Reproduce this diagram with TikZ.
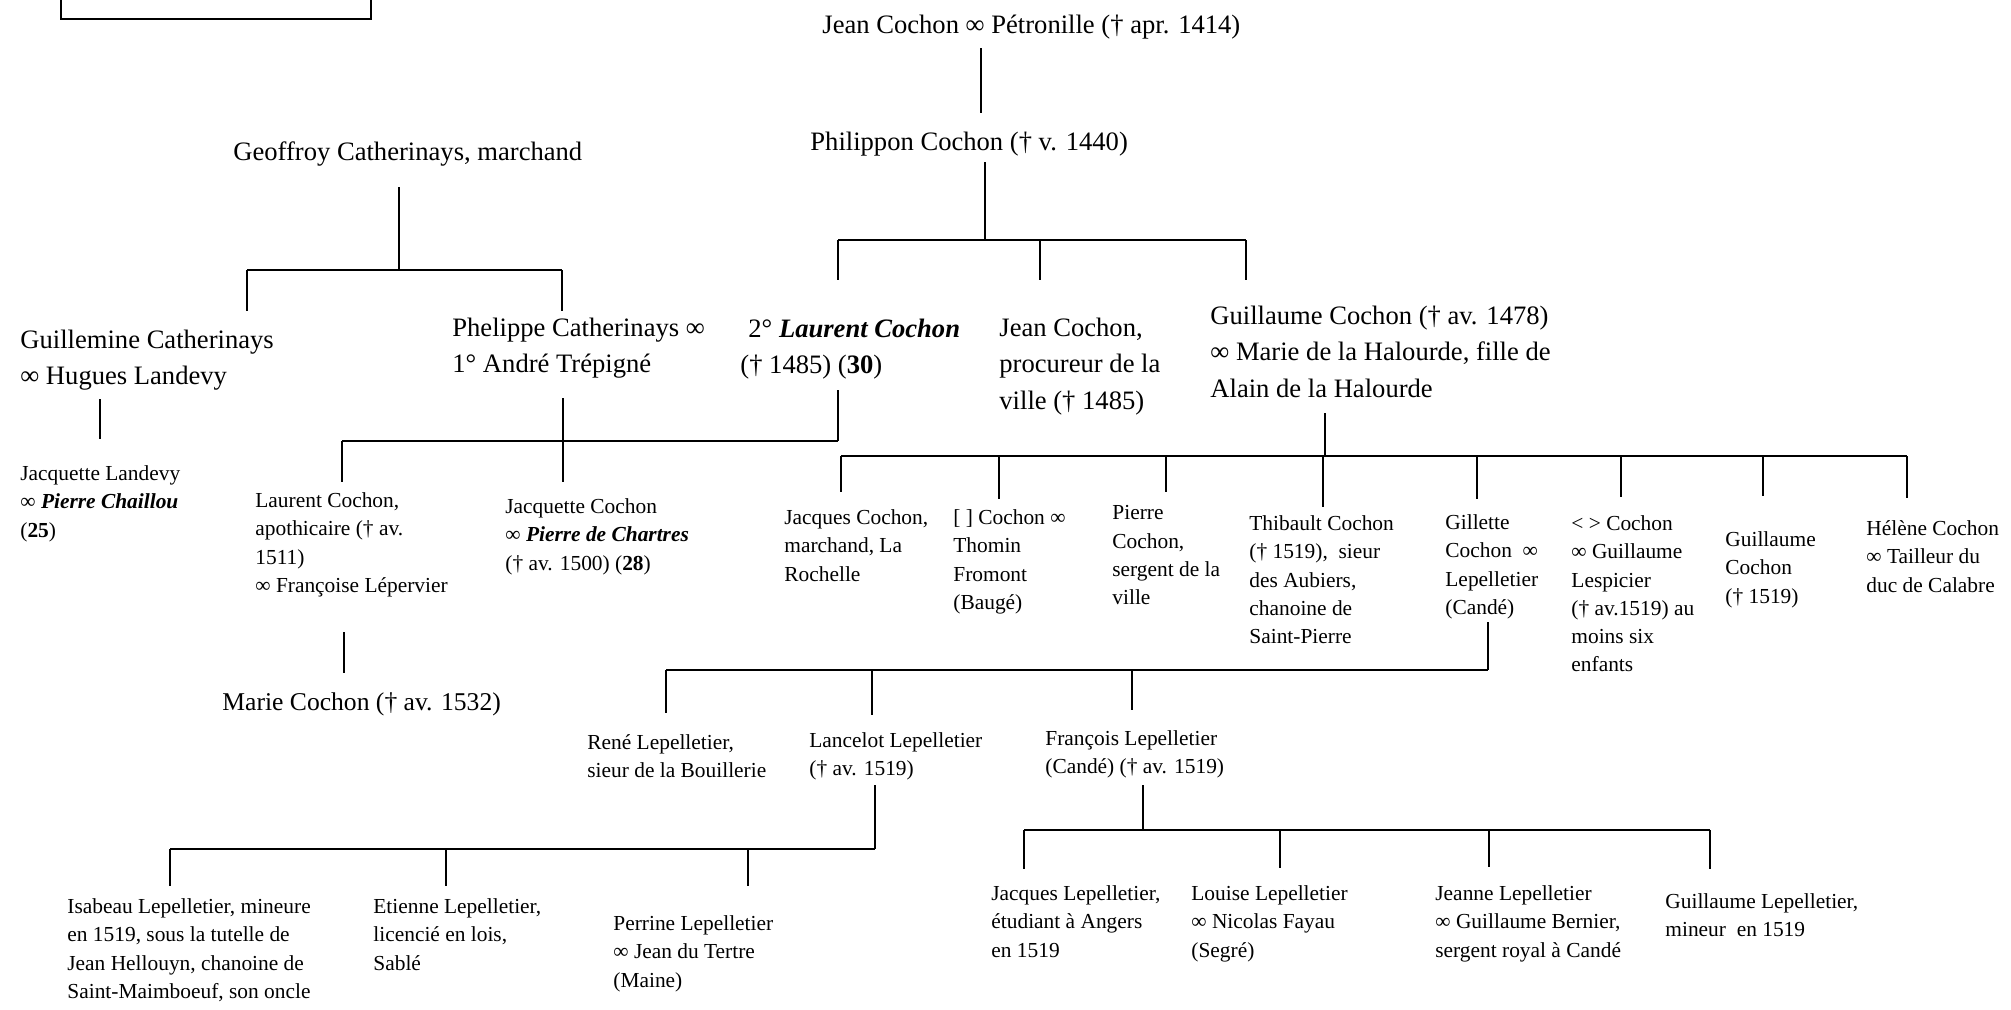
\documentclass[tikz,border=0pt]{standalone}
\usepackage{fontspec}
\setmainfont{Liberation Serif}
\newcommand{\bigfamfont}{\fontsize{13.3}{18.3}\selectfont}
\newcommand{\smallfamfont}{\fontsize{10.7}{14.15}\selectfont}
\tikzset{
  bigname/.style={anchor=north west, inner sep=0pt, align=left, font=\bigfamfont,
    yshift=12.81pt, execute at begin node=\strut},
  smallname/.style={anchor=north west, inner sep=0pt, align=left, font=\smallfamfont,
    yshift=9.9pt, execute at begin node=\strut},
  link/.style={line width=0.65pt}
}
\begin{document}
\begin{tikzpicture}[x=0.5pt, y=-0.5pt]
  \useasboundingbox (0,0) rectangle (2011,1009);
  % Box in the top left corner, cut by the page edge
  \draw[line width=1pt] (61,-10) rectangle (371,19);

  % Ancestors
  \node[bigname] (jp) at (822,33) {Jean Cochon ∞ Pétronille († apr. 1414)};
  \node[bigname] (phil) at (810,150) {Philippon Cochon († v. 1440)};
  \node[bigname] (geof) at (233,160) {Geoffroy Catherinays, marchand};

  % Second row
  \node[bigname] (guilm) at (20,355) {Guillemine Catherinays\\∞ Hugues Landevy};
  \node[bigname] (phel) at (452,343) {Phelippe Catherinays ∞\\1° André Trépigné};
  \node[bigname] (laur) at (740,344) {\hspace*{4pt}2° \textbf{\textit{Laurent Cochon}}\\(† 1485) (\textbf{30})};
  \node[bigname] (jeanp) at (999,343) {Jean Cochon,\\procureur de la\\ville († 1485)};
  \node[bigname] (guil) at (1210,331) {Guillaume Cochon († av. 1478)\\∞ Marie de la Halourde, fille de\\Alain de la Halourde};

  % Third row
  \node[smallname] (jland) at (20,485) {Jacquette Landevy\\∞ \textbf{\textit{Pierre Chaillou}}\\(\textbf{25})};
  \node[smallname] (lapo) at (255,512) {Laurent Cochon,\\apothicaire († av.\\1511)\\∞ Françoise Lépervier};
  \node[smallname] (jcoch) at (505,518) {Jacquette Cochon\\∞ \textbf{\textit{Pierre de Chartres}}\\(† av. 1500) (\textbf{28})};
  \node[bigname, font=\fontsize{12.8}{18.3}\selectfont] (marie) at (222,710) {Marie Cochon († av. 1532)};

  % Children of Guillaume Cochon
  \node[smallname] (jacq) at (784,529) {Jacques Cochon,\\marchand, La\\Rochelle};
  \node[smallname] (thom) at (953,529) {[ ] Cochon ∞\\Thomin\\Fromont\\(Baugé)};
  \node[smallname] (pierre) at (1112,525) {Pierre\\Cochon,\\sergent de la\\ville};
  \node[smallname] (thib) at (1249,535) {Thibault Cochon\\(† 1519),~ sieur\\des Aubiers,\\chanoine de\\Saint-Pierre};
  \node[smallname] (gill) at (1445,534) {Gillette\\Cochon~ ∞\\Lepelletier\\(Candé)};
  \node[smallname] (lesp) at (1571,535) {< > Cochon\\∞ Guillaume\\Lespicier\\(† av.1519) au\\moins six\\enfants};
  \node[smallname] (guilc) at (1725,551) {Guillaume\\Cochon\\(† 1519)};
  \node[smallname] (hel) at (1866,540) {Hélène Cochon\\∞ Tailleur du\\duc de Calabre};

  % Children of Gillette Cochon
  \node[smallname] (rene) at (587,754) {René Lepelletier,\\sieur de la Bouillerie};
  \node[smallname] (lanc) at (809,752) {Lancelot Lepelletier\\(† av. 1519)};
  \node[smallname] (fran) at (1045,750) {François Lepelletier\\(Candé) († av. 1519)};

  % Grandchildren
  \node[smallname] (isab) at (67,918) {Isabeau Lepelletier, mineure\\en 1519, sous la tutelle de\\Jean Hellouyn, chanoine de\\Saint-Maimboeuf, son oncle};
  \node[smallname] (etie) at (373,918) {Etienne Lepelletier,\\licencié en lois,\\Sablé};
  \node[smallname] (perr) at (613,935) {Perrine Lepelletier\\∞ Jean du Tertre\\(Maine)};
  \node[smallname] (jacl) at (991,905) {Jacques Lepelletier,\\étudiant à Angers\\en 1519};
  \node[smallname] (lou) at (1191,905) {Louise Lepelletier\\∞ Nicolas Fayau\\(Segré)};
  \node[smallname] (jean2) at (1435,905) {Jeanne Lepelletier\\∞ Guillaume Bernier,\\sergent royal à Candé};
  \node[smallname] (guill) at (1665,913) {Guillaume Lepelletier,\\mineur~ en 1519};

  % Jean -> Philippon
  \coordinate (jpT) at (981,48);
  \coordinate (s-phil) at (981,113);
  \draw[link] (jpT) -- (s-phil);

  % Philippon -> Laurent, Jean, Guillaume
  \coordinate (philT) at (985,162);
  \coordinate (philBar) at (985,240);
  \foreach \n/\x/\e in {laur/838/280, jeanp/1040/280, guil/1246/280}
    \coordinate (s-\n) at (\x,\e);
  \draw[link] (philT) -- (philBar);
  \draw[link] (s-laur |- philBar) -- (s-guil |- philBar);
  \foreach \c in {laur,jeanp,guil}
    \draw[link] (s-\c |- philBar) -- (s-\c);

  % Geoffroy -> Guillemine, Phelippe
  \coordinate (geofT) at (399,187);
  \coordinate (geofBar) at (399,270);
  \coordinate (s-guilm) at (247,311);
  \coordinate (s-phel) at (562,311);
  \draw[link] (geofT) -- (geofBar);
  \draw[link] (s-guilm |- geofBar) -- (s-phel |- geofBar);
  \foreach \c in {guilm,phel}
    \draw[link] (s-\c |- geofBar) -- (s-\c);

  % Guillemine -> Jacquette Landevy
  \coordinate (guilmT) at (100,399);
  \coordinate (s-jland) at (100,439);
  \draw[link] (guilmT) -- (s-jland);

  % Phelippe and Laurent -> Laurent, Jacquette
  \coordinate (phelT) at (563,398);
  \coordinate (laurT) at (838,390);
  \coordinate (laurBar) at (838,441);
  \coordinate (s-lapo) at (342,482);
  \coordinate (s-jcoch) at (563,482);
  \draw[link] (phelT) -- (phelT |- laurBar);
  \draw[link] (laurT) -- (laurBar);
  \draw[link] (s-lapo |- laurBar) -- (laurBar);
  \foreach \c in {lapo,jcoch}
    \draw[link] (s-\c |- laurBar) -- (s-\c);

  % Laurent -> Marie
  \coordinate (lapoT) at (344,632);
  \coordinate (s-marie) at (344,673);
  \draw[link] (lapoT) -- (s-marie);

  % Guillaume -> his eight children
  \coordinate (guilT) at (1325,413);
  \coordinate (guilBar) at (1325,456);
  \foreach \n/\x/\e in {jacq/841/492, thom/999/499, pierre/1166/492, thib/1323/507,
      gill/1477/499, lesp/1621/497, guilc/1763/496, hel/1907/498}
    \coordinate (s-\n) at (\x,\e);
  \draw[link] (guilT) -- (guilBar);
  \draw[link] (s-jacq |- guilBar) -- (s-hel |- guilBar);
  \foreach \c in {jacq,thom,pierre,thib,gill,lesp,guilc,hel}
    \draw[link] (s-\c |- guilBar) -- (s-\c);

  % Gillette -> René, Lancelot, François
  \coordinate (gillT) at (1488,622);
  \coordinate (gillBar) at (1488,670);
  \foreach \n/\x/\e in {rene/666/713, lanc/872/715, fran/1132/710}
    \coordinate (s-\n) at (\x,\e);
  \draw[link] (gillT) -- (gillBar);
  \draw[link] (s-rene |- gillBar) -- (gillBar);
  \foreach \c in {rene,lanc,fran}
    \draw[link] (s-\c |- gillBar) -- (s-\c);

  % Lancelot -> Isabeau, Etienne, Perrine
  \coordinate (lancT) at (875,785);
  \coordinate (lancBar) at (875,849);
  \foreach \n/\x in {isab/170, etie/446, perr/748}
    \coordinate (s-\n) at (\x,886);
  \draw[link] (lancT) -- (lancBar);
  \draw[link] (s-isab |- lancBar) -- (lancBar);
  \foreach \c in {isab,etie,perr}
    \draw[link] (s-\c |- lancBar) -- (s-\c);

  % François -> Jacques, Louise, Jeanne, Guillaume
  \coordinate (franT) at (1143,785);
  \coordinate (franBar) at (1143,830);
  \foreach \n/\x/\e in {jacl/1024/869, lou/1280/868, jean2/1489/867, guill/1710/869}
    \coordinate (s-\n) at (\x,\e);
  \draw[link] (franT) -- (franBar);
  \draw[link] (s-jacl |- franBar) -- (s-guill |- franBar);
  \foreach \c in {jacl,lou,jean2,guill}
    \draw[link] (s-\c |- franBar) -- (s-\c);
\end{tikzpicture}
\end{document}
